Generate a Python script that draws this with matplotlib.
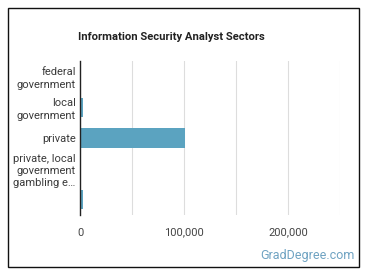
import matplotlib
matplotlib.use("Agg")
import matplotlib.pyplot as plt
from matplotlib.patches import Rectangle
from matplotlib.ticker import FuncFormatter, MultipleLocator

categories = ["federal\ngovernment", "local\ngovernment", "private",
              "private, local\ngovernment\ngambling e\u2026", ""]
values = [700, 2800, 101000, 500, 2900]
xticks = [0, 100000, 200000]

plt.rcParams['font.family'] = ['Roboto', 'DejaVu Sans']

W, H = 370, 278
fig = plt.figure(figsize=(W/100, H/100), dpi=100)
fig.patch.set_facecolor('white')

# outer border
fig.add_artist(Rectangle((8/W, 1-267/H), (359-8)/W, (267-8)/H, transform=fig.transFigure,
                         fill=False, edgecolor='#111111', linewidth=1.0))

ax = fig.add_axes([80/W, 1-215/H, (340-80)/W, (215-61)/H])
y = list(range(len(categories)))
ax.barh(y, values, height=0.62, color='#5ba3c0')
ax.set_ylim(len(categories)-0.5, -0.5)
ax.set_xlim(0, 250000)
ax.set_yticks(y)
ax.set_yticklabels(categories, fontsize=8, color='#3a3a3a', linespacing=1.3)
ax.set_xticks(xticks)
ax.xaxis.set_minor_locator(MultipleLocator(50000))
ax.xaxis.set_major_formatter(FuncFormatter(lambda v, p: f"{int(v):,}"))
ax.tick_params(axis='x', labelsize=8, labelcolor='#444444', length=0, pad=9, which='both')
ax.tick_params(axis='y', length=0, pad=3)
ax.grid(axis='x', which='both', color='#dddddd', linewidth=0.8)
ax.set_axisbelow(True)
for s in ['top', 'right', 'bottom']:
    ax.spines[s].set_visible(False)
ax.spines['left'].set_color('#222222')
ax.spines['left'].set_linewidth(1.0)
ax.spines['left'].set_zorder(5)

fig.text(78/W, 1-37/H, "Information Security Analyst Sectors", fontsize=8.1, fontweight='bold',
         color='#222222', ha='left', va='center')
fig.text(355/W, 1-255/H, "GradDegree.com", fontsize=9, color='#6fa3c2', ha='right', va='center')

fig.savefig("out.png", dpi=100, facecolor='white')
